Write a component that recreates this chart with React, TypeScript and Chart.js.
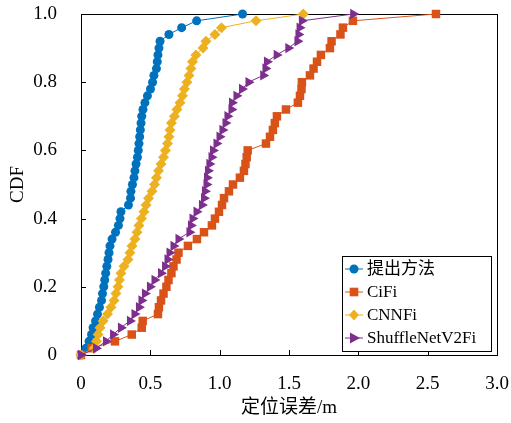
import React, { useEffect, useRef } from 'react';
import { Chart, registerables } from 'chart.js';

Chart.register(...registerables);

const cdfLevels = [
  0, 0.02, 0.04, 0.06, 0.08, 0.1, 0.12, 0.14, 0.16, 0.18, 0.2, 0.22, 0.24, 0.26, 0.28, 0.3, 0.32, 0.34, 0.36, 0.38,
  0.4, 0.42, 0.44, 0.46, 0.48, 0.5, 0.52, 0.54, 0.56, 0.58, 0.6, 0.62, 0.64, 0.66, 0.68, 0.7, 0.72, 0.74, 0.76, 0.78,
  0.8, 0.82, 0.84, 0.86, 0.88, 0.9, 0.92, 0.94, 0.96, 0.98, 1.0,
];

const proposedErr = [
  0, 0.036, 0.058, 0.076, 0.087, 0.105, 0.119, 0.133, 0.148, 0.155, 0.164, 0.171, 0.178, 0.186, 0.195, 0.202, 0.209,
  0.224, 0.249, 0.27, 0.281, 0.288, 0.342, 0.357, 0.36, 0.371, 0.382, 0.389, 0.397, 0.407, 0.413, 0.418, 0.423, 0.428,
  0.433, 0.438, 0.447, 0.461, 0.479, 0.501, 0.516, 0.526, 0.544, 0.55, 0.555, 0.562, 0.57, 0.634, 0.726, 0.834, 1.165,
];

const cifiErr = [
  0, 0.077, 0.245, 0.366, 0.438, 0.445, 0.555, 0.562, 0.577, 0.595, 0.616, 0.631, 0.652, 0.667, 0.689, 0.703, 0.771,
  0.836, 0.887, 0.944, 0.966, 0.995, 1.017, 1.031, 1.067, 1.096, 1.146, 1.175, 1.186, 1.195, 1.202, 1.334, 1.363, 1.384,
  1.398, 1.413, 1.478, 1.564, 1.579, 1.59, 1.593, 1.651, 1.677, 1.702, 1.73, 1.795, 1.807, 1.871, 1.889, 1.961, 2.56,
];

const cnnfiErr = [
  0, 0.094, 0.112, 0.123, 0.137, 0.159, 0.191, 0.216, 0.238, 0.252, 0.267, 0.277, 0.288, 0.31, 0.339, 0.353, 0.368,
  0.389, 0.404, 0.418, 0.436, 0.454, 0.469, 0.487, 0.512, 0.53, 0.544, 0.559, 0.577, 0.595, 0.609, 0.624, 0.634, 0.642,
  0.652, 0.674, 0.692, 0.714, 0.732, 0.746, 0.764, 0.779, 0.793, 0.804, 0.829, 0.88, 0.901, 0.966, 1.013, 1.262, 1.603,
];

const shuffleErr = [
  0, 0.108, 0.18, 0.231, 0.288, 0.353, 0.386, 0.418, 0.436, 0.461, 0.497, 0.53, 0.577, 0.606, 0.624, 0.638, 0.667,
  0.703, 0.782, 0.793, 0.804, 0.833, 0.872, 0.887, 0.894, 0.905, 0.908, 0.916, 0.926, 0.941, 0.952, 0.977, 0.999, 1.02,
  1.042, 1.056, 1.085, 1.089, 1.121, 1.161, 1.208, 1.314, 1.33, 1.341, 1.411, 1.495, 1.561, 1.568, 1.576, 1.593, 1.963,
];

const seriesNames = ['提出方法', 'CiFi', 'CNNFi', 'ShuffleNetV2Fi'];
const seriesColors = ['#0072BD', '#D95319', '#EDB120', '#7E2F8E'];
const xTickValues = [0, 0.5, 1.0, 1.5, 2.0, 2.5, 3.0];
const yTickValues = [0, 0.2, 0.4, 0.6, 0.8, 1.0];
const xTitle = '定位误差/m';
const yTitle = 'CDF';

const FONT = '"Liberation Serif", "Noto Sans CJK SC", serif';

function drawMarker(ctx: CanvasRenderingContext2D, kind: number, x: number, y: number) {
  ctx.beginPath();
  if (kind === 0) {
    ctx.arc(x, y, 4.5, 0, Math.PI * 2);
  } else if (kind === 1) {
    ctx.rect(x - 4.3, y - 4.3, 8.6, 8.6);
  } else if (kind === 2) {
    ctx.moveTo(x, y - 5.5);
    ctx.lineTo(x + 5, y);
    ctx.lineTo(x, y + 5.5);
    ctx.lineTo(x - 5, y);
    ctx.closePath();
  } else {
    ctx.moveTo(x + 6, y);
    ctx.lineTo(x - 4, y - 5.5);
    ctx.lineTo(x - 4, y + 5.5);
    ctx.closePath();
  }
  ctx.fill();
}

const framePlugin = {
  id: 'frameTicks',
  beforeDatasetsDraw(chart: any) {
    const { ctx, chartArea, scales } = chart;
    const { left, right, top, bottom } = chartArea;
    ctx.save();
    ctx.strokeStyle = '#000';
    ctx.lineWidth = 1;
    ctx.strokeRect(left + 0.5, top + 0.5, right - left, bottom - top);
    ctx.beginPath();
    for (const v of xTickValues) {
      if (v === 0 || v === 3) continue;
      const px = Math.round(scales.x.getPixelForValue(v)) + 0.5;
      ctx.moveTo(px, bottom);
      ctx.lineTo(px, bottom - 5);
    }
    for (const v of yTickValues) {
      if (v === 0 || v === 1) continue;
      const py = Math.round(scales.y.getPixelForValue(v)) + 0.5;
      ctx.moveTo(left, py);
      ctx.lineTo(left + 5, py);
    }
    ctx.stroke();
    ctx.restore();
  },
};

const legendPlugin = {
  id: 'customLegend',
  afterDraw(chart: any) {
    const { ctx } = chart;
    const bx = 342.5;
    const by = 256.5;
    const bw = 149;
    const bh = 95;
    ctx.save();
    ctx.fillStyle = '#fff';
    ctx.fillRect(bx, by, bw, bh);
    ctx.strokeStyle = '#000';
    ctx.lineWidth = 1;
    ctx.strokeRect(bx, by, bw, bh);
    ctx.font = '17px ' + FONT;
    ctx.textBaseline = 'middle';
    ctx.textAlign = 'left';
    seriesNames.forEach((name, i) => {
      const cy = 269 + i * 23;
      ctx.strokeStyle = seriesColors[i];
      ctx.fillStyle = seriesColors[i];
      ctx.lineWidth = 1;
      ctx.beginPath();
      ctx.moveTo(345, cy);
      ctx.lineTo(363, cy);
      ctx.stroke();
      drawMarker(ctx, i, 354, cy);
      ctx.fillStyle = '#000';
      ctx.fillText(name, 367, cy + 1);
    });
    ctx.restore();
  },
};

const zeroPad = (s: any) => {
  s.paddingLeft = 0;
  s.paddingRight = 0;
  s.paddingTop = 0;
  s.paddingBottom = 0;
};

export default function App() {
  const canvasRef = useRef<HTMLCanvasElement | null>(null);

  useEffect(() => {
    const canvas = canvasRef.current;
    if (!canvas) return;
    const errs = [proposedErr, cifiErr, cnnfiErr, shuffleErr];
    const styles: any[] = ['circle', 'rect', 'rectRot', 'triangle'];
    const radii = [4.5, 6, 5.5, 6];
    const rotations = [0, 0, 0, 90];
    const datasets = errs.map((arr, i) => ({
      label: seriesNames[i],
      data: arr.map((x, k) => ({ x, y: cdfLevels[k] })),
      borderColor: seriesColors[i],
      backgroundColor: seriesColors[i],
      borderWidth: 1,
      pointStyle: styles[i],
      pointRadius: radii[i],
      pointRotation: rotations[i],
      pointBorderWidth: 0,
      pointBackgroundColor: seriesColors[i],
      showLine: true,
      tension: 0,
      clip: false as any,
      order: 3 - i,
    }));

    const chart = new Chart(canvas, {
      type: 'scatter',
      data: { datasets },
      options: {
        animation: false,
        responsive: false,
        devicePixelRatio: 1,
        layout: { padding: { top: 14, right: 14, left: 0, bottom: 0 } },
        plugins: {
          legend: { display: false },
          tooltip: { enabled: false },
        },
        scales: {
          x: {
            type: 'linear',
            min: 0,
            max: 3,
            afterBuildTicks: (s: any) => {
              s.ticks = xTickValues.map((v) => ({ value: v }));
            },
            afterFit: (s: any) => {
              s.height = 68;
              zeroPad(s);
            },
            grid: { display: false },
            border: { display: false },
            ticks: {
              color: '#000',
              padding: 10,
              font: { family: FONT, size: 19 },
              maxRotation: 0,
              callback: (v: any) => (Number(v) === 0 ? '0' : Number(v).toFixed(1)),
            },
            title: {
              display: true,
              text: xTitle,
              color: '#000',
              font: { family: FONT, size: 19 },
              padding: { top: 0, bottom: 4 },
            },
          },
          y: {
            type: 'linear',
            min: 0,
            max: 1,
            afterBuildTicks: (s: any) => {
              s.ticks = yTickValues.map((v) => ({ value: v }));
            },
            afterFit: (s: any) => {
              s.width = 81;
              zeroPad(s);
            },
            grid: { display: false },
            border: { display: false },
            ticks: {
              color: '#000',
              padding: 16,
              font: { family: FONT, size: 19 },
              callback: (v: any) => (Number(v) === 0 ? '0' : Number(v).toFixed(1)),
            },
            title: {
              display: true,
              text: yTitle,
              color: '#000',
              font: { family: FONT, size: 19 },
              padding: { top: 7, bottom: 0 },
            },
          },
        },
      },
      plugins: [framePlugin, legendPlugin],
    });

    return () => {
      chart.destroy();
    };
  }, []);

  return (
    <div style={{ position: 'absolute', left: 0, top: 0, width: 511, height: 423, background: '#fff' }}>
      <canvas ref={canvasRef} width={511} height={423} style={{ width: 511, height: 423, display: 'block' }} />
    </div>
  );
}
